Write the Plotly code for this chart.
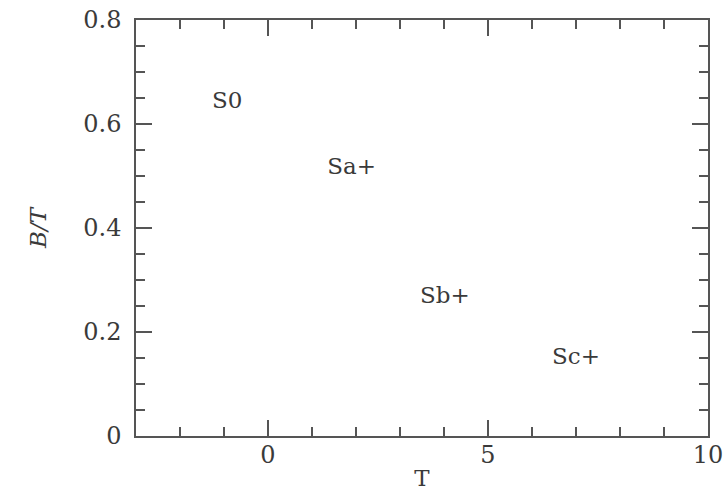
import plotly.graph_objects as go

# Morphological classes placed on the T vs B/T plane
classes = ["S0", "Sa+", "Sb+", "Sc+"]
t_type = [-0.93, 1.9, 4.02, 7.0]
bulge_ratio = [0.642, 0.515, 0.267, 0.15]

x_range = [-3, 10]
y_range = [0, 0.8]

ink = "#3a3a3a"
axis_col = "#555555"
serif = "DejaVu Serif"

fig = go.Figure()
fig.add_trace(go.Scatter(
    x=t_type, y=bulge_ratio, text=classes, mode="text",
    textposition="middle center",
    textfont=dict(family=serif, size=23, color=ink),
    hoverinfo="skip", showlegend=False,
))

axis_common = dict(
    showline=True, linecolor=axis_col, linewidth=1.5,
    mirror="allticks", ticks="inside", tickcolor=axis_col,
    tickwidth=1.5, ticklen=16, showgrid=False, zeroline=False,
    tickfont=dict(family=serif, size=24, color=ink),
)

fig.update_xaxes(
    range=x_range, tick0=0, dtick=5,
    minor=dict(dtick=1, tick0=0, ticks="inside", ticklen=9,
               tickcolor=axis_col, tickwidth=1.5, showgrid=False),
    ticklabelstandoff=-4,
    title=dict(text="T", font=dict(family=serif, size=23, color=ink), standoff=2),
    **axis_common,
)
fig.update_yaxes(
    range=y_range, tick0=0, dtick=0.2,
    minor=dict(dtick=0.05, tick0=0, ticks="inside", ticklen=9,
               tickcolor=axis_col, tickwidth=1.5, showgrid=False),
    ticklabelstandoff=8,
    title=dict(text="<i>B/T</i>", font=dict(family=serif, size=23, color=ink), standoff=30),
    **axis_common,
)

fig.update_layout(
    width=724, height=495,
    margin=dict(l=136, r=16, t=20, b=59, autoexpand=False),
    paper_bgcolor="white", plot_bgcolor="white",
)

fig.write_html("out.html")
